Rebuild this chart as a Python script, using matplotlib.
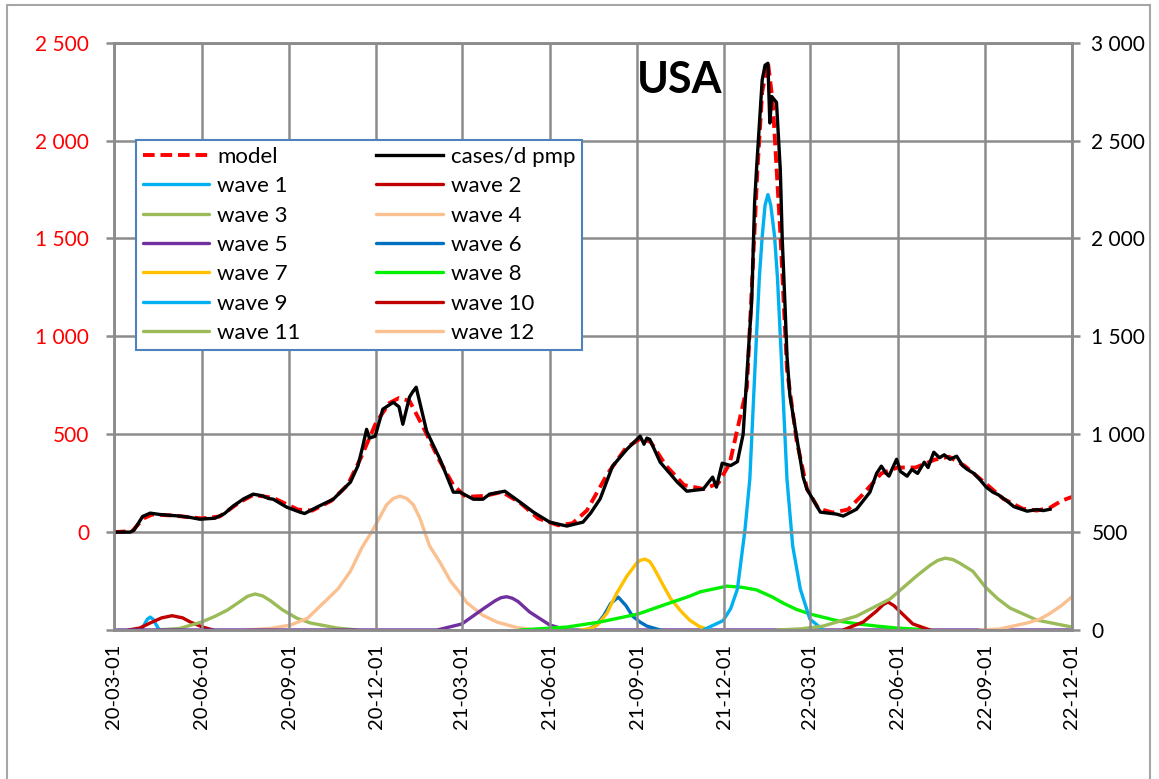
import matplotlib
matplotlib.use("Agg")
import matplotlib.pyplot as plt
import matplotlib.dates as mdates
import pandas as pd
from matplotlib.patches import Rectangle

plt.rcParams['font.family'] = ['Lato', 'DejaVu Sans']

# ---------------------------------------------------------
# data: daily cases per million (left axis) and fitted model
# ---------------------------------------------------------
cases_dates = [
    "2020-03-01", "2020-03-18", "2020-03-22", "2020-03-31", "2020-04-08", "2020-04-18",
    "2020-04-26", "2020-05-09", "2020-05-20", "2020-05-30", "2020-06-15", "2020-06-25",
    "2020-07-04", "2020-07-15", "2020-07-25", "2020-08-04", "2020-08-10", "2020-08-15",
    "2020-08-29", "2020-09-12", "2020-09-17", "2020-09-30", "2020-10-17", "2020-11-04",
    "2020-11-12", "2020-11-17", "2020-11-21", "2020-11-24", "2020-11-30", "2020-12-08",
    "2020-12-19", "2020-12-25", "2020-12-29", "2021-01-05", "2021-01-08", "2021-01-12",
    "2021-01-23", "2021-02-06", "2021-02-20", "2021-02-27", "2021-03-13", "2021-03-23",
    "2021-03-30", "2021-04-15", "2021-05-01", "2021-05-15", "2021-06-01", "2021-06-19",
    "2021-07-06", "2021-07-14", "2021-07-24", "2021-08-06", "2021-08-21", "2021-09-04",
    "2021-09-08", "2021-09-11", "2021-09-14", "2021-09-25", "2021-10-13", "2021-10-23",
    "2021-11-09", "2021-11-19", "2021-11-23", "2021-11-29", "2021-12-08", "2021-12-15",
    "2021-12-21", "2021-12-27", "2021-12-30", "2022-01-02", "2022-01-04", "2022-01-10",
    "2022-01-13", "2022-01-16", "2022-01-18", "2022-01-20", "2022-01-25", "2022-01-29",
    "2022-01-31", "2022-02-03", "2022-02-05", "2022-02-08", "2022-02-15", "2022-02-22",
    "2022-02-26", "2022-03-12", "2022-03-29", "2022-04-05", "2022-04-19", "2022-05-03",
    "2022-05-10", "2022-05-15", "2022-05-20", "2022-05-23", "2022-05-27", "2022-05-31",
    "2022-06-04", "2022-06-11", "2022-06-16", "2022-06-22", "2022-06-29", "2022-07-03",
    "2022-07-09", "2022-07-15", "2022-07-20", "2022-07-26", "2022-08-02", "2022-08-08",
    "2022-08-13", "2022-08-20", "2022-08-26", "2022-09-02", "2022-09-09", "2022-09-15",
    "2022-09-24", "2022-10-01", "2022-10-15", "2022-10-25", "2022-11-01", "2022-11-08",
]
cases_vals = [
    0, 0, 10, 80, 97, 90,
    87, 82, 75, 66, 71, 95,
    133, 170, 194, 185, 172, 168,
    128, 102, 95, 128, 168, 255,
    340, 439, 525, 480, 490, 628,
    663, 640, 551, 690, 714, 740,
    515, 372, 204, 204, 168, 168,
    194, 209, 153, 102, 51, 31,
    51, 97, 170, 337, 423, 490,
    449, 480, 474, 357, 255, 209,
    219, 281, 230, 352, 340, 360,
    500, 960, 1180, 1680, 1850, 2310,
    2385, 2395, 2090, 2225, 2195, 1850,
    1500, 1150, 900, 700, 490, 280,
    219, 102, 92, 82, 117, 204,
    300, 337, 300, 286, 330, 372,
    310, 286, 320, 300, 357, 330,
    408, 380, 395, 372, 388, 340,
    321, 300, 270, 230, 204, 190,
    158, 130, 107, 115, 110, 117,
]

model_dates = [
    "2020-03-01", "2020-03-20", "2020-04-01", "2020-04-10", "2020-05-01", "2020-06-01",
    "2020-06-20", "2020-07-10", "2020-07-25", "2020-08-15", "2020-09-10", "2020-09-25",
    "2020-10-15", "2020-11-01", "2020-11-15", "2020-12-01", "2020-12-15", "2020-12-25",
    "2021-01-05", "2021-01-20", "2021-02-05", "2021-02-20", "2021-03-05", "2021-03-25",
    "2021-04-12", "2021-05-01", "2021-05-20", "2021-06-10", "2021-06-25", "2021-07-10",
    "2021-08-01", "2021-08-20", "2021-09-05", "2021-09-15", "2021-10-01", "2021-10-20",
    "2021-11-10", "2021-11-25", "2021-12-07", "2021-12-14", "2021-12-25", "2021-12-31",
    "2022-01-05", "2022-01-10", "2022-01-16", "2022-01-21", "2022-01-29", "2022-02-05",
    "2022-02-15", "2022-02-26", "2022-03-10", "2022-03-25", "2022-04-10", "2022-04-25",
    "2022-05-15", "2022-06-01", "2022-06-20", "2022-07-10", "2022-07-25", "2022-08-10",
    "2022-09-01", "2022-09-20", "2022-10-10", "2022-10-25", "2022-11-08", "2022-11-20",
    "2022-12-01",
]
model_vals = [
    0, 5, 70, 90, 85, 70,
    80, 150, 190, 175, 115, 110,
    160, 240, 380, 560, 660, 685,
    670, 530, 370, 240, 180, 185,
    205, 150, 70, 35, 45, 110,
    300, 430, 480, 460, 340, 240,
    220, 250, 352, 505, 740, 1340,
    1850, 2250, 2400, 2200, 1530, 830,
    470, 220, 120, 100, 115, 190,
    300, 330, 330, 370, 385, 340,
    250, 170, 120, 110, 125, 160,
    180,
]

# ---------------------------------------------------------
# individual waves (right axis)
# ---------------------------------------------------------
wave1_dates = ["2020-03-28", "2020-03-31", "2020-04-03", "2020-04-05", "2020-04-08",
               "2020-04-11", "2020-04-13", "2020-04-16", "2020-04-18"]
wave1_vals = [0, 12, 38, 55, 66, 55, 38, 12, 0]

wave2_dates = ["2020-03-16", "2020-03-28", "2020-04-08", "2020-04-20", "2020-05-01",
               "2020-05-12", "2020-05-20", "2020-06-02", "2020-06-13"]
wave2_vals = [0, 10, 36, 62, 73, 62, 41, 15, 0]

wave3_dates = ["2020-04-15", "2020-05-09", "2020-06-01", "2020-06-15", "2020-06-28",
               "2020-07-11", "2020-07-19", "2020-07-27", "2020-08-04", "2020-08-12",
               "2020-08-25", "2020-09-09", "2020-09-23", "2020-10-21", "2020-11-11"]
wave3_vals = [0, 8, 41, 70, 102, 145, 172, 184, 174, 150, 102, 60, 36, 10, 0]

wave4_dates = ["2020-07-19", "2020-08-12", "2020-09-02", "2020-09-20", "2020-10-06",
               "2020-10-22", "2020-11-04", "2020-11-16", "2020-11-28", "2020-12-12",
               "2020-12-19", "2020-12-26", "2021-01-02", "2021-01-09", "2021-01-16",
               "2021-01-26", "2021-02-06", "2021-02-17", "2021-02-27", "2021-03-06",
               "2021-03-23", "2021-04-07", "2021-04-28", "2021-05-17"]
wave4_vals = [0, 8, 25, 60, 135, 210, 300, 420, 515, 640, 672, 684, 672, 640, 570,
              430, 345, 250, 190, 140, 75, 40, 12, 0]

wave5_dates = ["2020-03-01", "2021-02-03", "2021-03-01", "2021-03-23", "2021-04-05",
               "2021-04-11", "2021-04-17", "2021-04-23", "2021-04-29", "2021-05-11",
               "2021-06-01", "2021-06-19", "2022-12-01"]
wave5_vals = [0, 0, 31, 107, 150, 165, 170, 162, 145, 92, 26, 0, 0]

wave6_dates = ["2021-07-10", "2021-07-20", "2021-07-28", "2021-08-04", "2021-08-12",
               "2021-08-20", "2021-08-27", "2021-09-04", "2021-09-11", "2021-09-25"]
wave6_vals = [0, 25, 75, 135, 168, 125, 71, 40, 20, 0]

wave7_dates = ["2021-07-03", "2021-07-14", "2021-07-21", "2021-07-31", "2021-08-10",
               "2021-08-21", "2021-08-31", "2021-09-04", "2021-09-09", "2021-09-14",
               "2021-09-18", "2021-09-28", "2021-10-06", "2021-10-16", "2021-10-26",
               "2021-11-05", "2021-11-16"]
wave7_vals = [0, 8, 25, 85, 185, 275, 340, 356, 362, 350, 320, 230, 160, 100, 50,
              18, 0]

wave8_dates = ["2021-05-01", "2021-06-19", "2021-07-24", "2021-09-02", "2021-10-02",
               "2021-10-26", "2021-11-06", "2021-12-04", "2021-12-20", "2022-01-04",
               "2022-01-20", "2022-02-02", "2022-02-15", "2022-03-01", "2022-03-15",
               "2022-04-01", "2022-04-19", "2022-05-10", "2022-05-31", "2022-07-05"]
wave8_vals = [0, 15, 41, 82, 133, 173, 195, 224, 218, 205, 170, 135, 105, 82, 65,
              45, 32, 20, 10, 0]

wave9_dates = ["2021-11-09", "2021-11-30", "2021-12-08", "2021-12-15", "2021-12-23",
               "2021-12-28", "2022-01-04", "2022-01-07", "2022-01-10", "2022-01-13",
               "2022-01-16", "2022-01-19", "2022-01-23", "2022-01-26", "2022-01-29",
               "2022-02-05", "2022-02-11", "2022-02-19", "2022-03-01", "2022-03-15"]
wave9_vals = [0, 48, 110, 209, 515, 770, 1500, 1800, 2010, 2170, 2224, 2170, 2010,
              1800, 1500, 770, 429, 209, 56, 0]

wave10_dates = ["2022-04-05", "2022-04-26", "2022-05-10", "2022-05-17", "2022-05-22",
                "2022-05-28", "2022-06-04", "2022-06-17", "2022-07-05"]
wave10_vals = [0, 41, 97, 130, 143, 125, 92, 31, 0]

wave11_dates = ["2022-01-25", "2022-02-20", "2022-03-15", "2022-04-19", "2022-05-24",
                "2022-06-21", "2022-07-05", "2022-07-13", "2022-07-21", "2022-07-29",
                "2022-08-05", "2022-08-19", "2022-09-01", "2022-09-14", "2022-09-27",
                "2022-10-25", "2022-12-01"]
wave11_vals = [0, 6, 20, 71, 158, 276, 330, 355, 367, 360, 342, 300, 220, 160, 112,
               51, 15]

wave12_dates = ["2022-08-26", "2022-09-16", "2022-10-15", "2022-10-28", "2022-11-08",
                "2022-11-20", "2022-12-01"]
wave12_vals = [0, 5, 36, 55, 85, 125, 170]

waves = [
    ("wave 1", wave1_dates, wave1_vals, "#00B0F0"),
    ("wave 2", wave2_dates, wave2_vals, "#C00000"),
    ("wave 3", wave3_dates, wave3_vals, "#9BBB59"),
    ("wave 4", wave4_dates, wave4_vals, "#FAC090"),
    ("wave 5", wave5_dates, wave5_vals, "#7030A0"),
    ("wave 6", wave6_dates, wave6_vals, "#0070C0"),
    ("wave 7", wave7_dates, wave7_vals, "#FFC000"),
    ("wave 8", wave8_dates, wave8_vals, "#00F000"),
    ("wave 9", wave9_dates, wave9_vals, "#00B0F0"),
    ("wave 10", wave10_dates, wave10_vals, "#C00000"),
    ("wave 11", wave11_dates, wave11_vals, "#9BBB59"),
    ("wave 12", wave12_dates, wave12_vals, "#FAC090"),
]

x_ticks = pd.date_range("2020-03-01", "2022-12-01", freq="3MS")

# ---------------------------------------------------------
# figure
# ---------------------------------------------------------
fig = plt.figure(figsize=(11.59, 7.79), dpi=100)
ax = fig.add_axes([114 / 1159, 1 - 630 / 779, 958 / 1159, 587.3 / 779])
ax2 = ax.twinx()

grid_col = "#8C8C8C"

# waves on the right axis
wave_handles = []
for name, d, v, c in waves:
    ln, = ax2.plot(pd.to_datetime(d), v, color=c, lw=2.4, label=name,
                   solid_joinstyle="round", solid_capstyle="round")
    wave_handles.append(ln)

# model + cases on the left axis, drawn above the waves
ax.set_zorder(ax2.get_zorder() + 1)
ax.patch.set_visible(False)
model_ln, = ax.plot(pd.to_datetime(model_dates), model_vals, color="#FF0000",
                    lw=2.8, ls=(0, (3, 1.5)), label="model")
cases_ln, = ax.plot(pd.to_datetime(cases_dates), cases_vals, color="black",
                    lw=2.4, label="cases/d pmp", solid_joinstyle="round")

# axes ranges
ax.set_xlim(pd.Timestamp("2020-03-01"), pd.Timestamp("2022-12-01"))
ax.set_ylim(-500, 2500)
ax2.set_ylim(0, 3000)


def thousands(v):
    return f"{int(v):,}".replace(",", " ")


left_ticks = list(range(-500, 2501, 500))
ax.set_yticks(left_ticks)
ax.set_yticklabels(["" if t < 0 else thousands(t) for t in left_ticks])
right_ticks = list(range(0, 3001, 500))
ax2.set_yticks(right_ticks)
ax2.set_yticklabels([thousands(t) for t in right_ticks])

ax.set_xticks(x_ticks)
ax.xaxis.set_major_formatter(mdates.DateFormatter("%y-%m-%d"))
for lab in ax.get_xticklabels():
    lab.set_rotation(90)

ax.tick_params(axis="y", colors=grid_col, labelcolor="#FF0000", labelsize=15,
               length=6, width=1.8, pad=12)
ax2.tick_params(axis="y", colors=grid_col, labelcolor="black", labelsize=15,
                length=6, width=1.8, pad=8)
ax.tick_params(axis="x", length=0, labelsize=14.5, pad=10, labelcolor="black")

ax.grid(True, color=grid_col, lw=1.8)
ax.set_axisbelow(True)
for a in (ax, ax2):
    for s in a.spines.values():
        s.set_color(grid_col)
        s.set_linewidth(1.8)

ax.text(0.59, 0.936, "USA", transform=ax.transAxes, fontsize=31,
        fontweight="bold", ha="center", va="center")

# legend, two columns filled row by row
col1 = [model_ln] + wave_handles[0::2]
col2 = [cases_ln] + wave_handles[1::2]
handles = col1 + col2
leg = ax.legend(handles, [h.get_label() for h in handles], ncol=2,
                loc="upper left", bbox_to_anchor=(0.023, 0.834),
                borderaxespad=0, fontsize=16, handlelength=3.0,
                labelspacing=0.42, columnspacing=3.4, handletextpad=0.35,
                borderpad=0.3, fancybox=False, framealpha=1)
leg.get_frame().set_edgecolor("#4F81BD")
leg.get_frame().set_linewidth(1.5)
leg.set_zorder(10)

# outer chart frame
fig.add_artist(Rectangle((7 / 1159, -0.05), 1143 / 1159, 1.05 - 5 / 779,
                         transform=fig.transFigure, fill=False,
                         edgecolor="#A6A6A6", lw=1.5))

fig.savefig("out.png", dpi=100)
